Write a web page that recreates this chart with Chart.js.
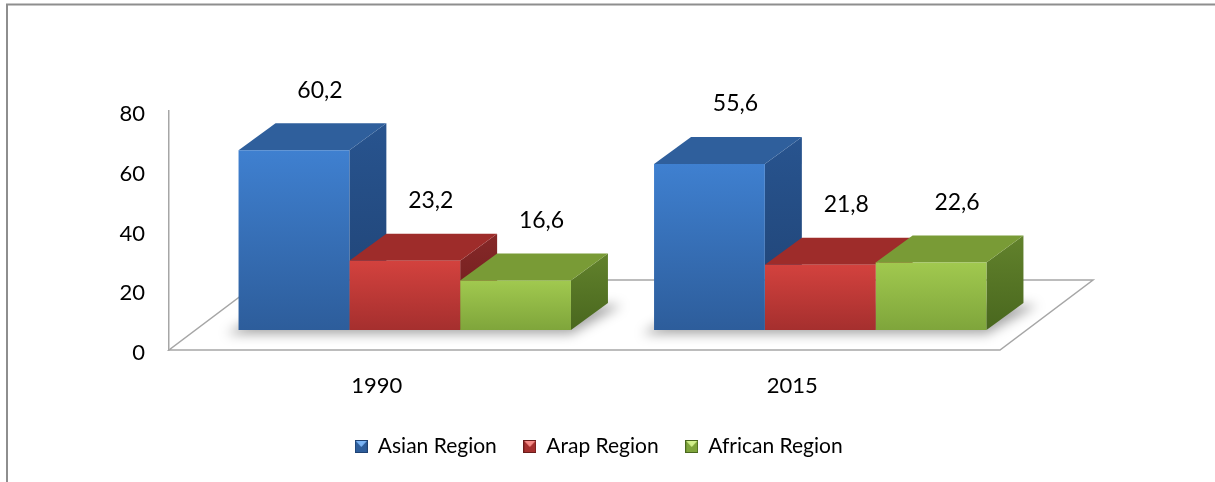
<!DOCTYPE html>
<html>
<head>
<meta charset="utf-8">
<script src="https://cdn.jsdelivr.net/npm/chart.js@4.4.1/dist/chart.umd.min.js"></script>
<style>
    html, body { margin: 0; padding: 0; background: #fff; }
</style>
</head>
<body>
<canvas id="grafico" width="1215" height="482"></canvas>
<script>
const anos = ["1990", "2015"];
const regioes = ["Asian Region", "Arap Region", "African Region"];
const asian = [60.2, 55.6];
const arap = [23.2, 21.8];
const african = [16.6, 22.6];
const yTicks = [0, 20, 40, 60, 80];

// cores de cada regiao: frente (topo -> base), tampa, lateral, brilho da legenda
const cores = [
    { front: ['#3f80d0', '#2d5d9b'], top: '#2f5f9c', side: ['#28548f', '#1f4273'], light: '#7ab4f5' },
    { front: ['#d3423e', '#a52f2e'], top: '#9e2c2a', side: ['#862828', '#6a1c1b'], light: '#f58a86' },
    { front: ['#a1c94f', '#7fa53b'], top: '#799b36', side: ['#62822c', '#49671e'], light: '#d2f08c' }
];

const BAR_DX = 28, BAR_DY = 20;     // frente das barras recuada no piso
const DEPTH_X = 37, DEPTH_Y = 27;   // profundidade das barras
const FLOOR_X = 93, FLOOR_Y = 70;   // profundidade do piso
const FONTE = "Lato, 'Open Sans', sans-serif";

function formata(v) {
    return v.toFixed(1).replace('.', ',');
}

function frenteGradiente(context) {
    const c = cores[context.datasetIndex];
    const chart = context.chart;
    const y = chart.scales.y;
    if (!chart.chartArea || !y || !context.parsed) return c.front[1];
    const topo = y.getPixelForValue(context.parsed.y);
    const base = y.getPixelForValue(0);
    const g = chart.ctx.createLinearGradient(0, topo, 0, base);
    g.addColorStop(0, c.front[0]);
    g.addColorStop(1, c.front[1]);
    return g;
}

function iconeLegenda(c) {
    const cv = document.createElement('canvas');
    cv.width = 13; cv.height = 13;
    const g = cv.getContext('2d');
    g.fillStyle = c.front[1];
    g.fillRect(0, 0, 13, 13);
    g.fillStyle = c.light;
    g.beginPath(); g.moveTo(1, 1); g.lineTo(12, 1); g.lineTo(6.5, 7); g.closePath(); g.fill();
    g.strokeStyle = c.side[1];
    g.lineWidth = 1;
    g.strokeRect(0.5, 0.5, 12, 12);
    return cv;
}
const icones = cores.map(iconeLegenda);

function poligono(ctx, pts, fill) {
    ctx.beginPath();
    ctx.moveTo(pts[0][0], pts[0][1]);
    for (let i = 1; i < pts.length; i++) ctx.lineTo(pts[i][0], pts[i][1]);
    ctx.closePath();
    ctx.fillStyle = fill;
    ctx.fill();
}

const efeito3d = {
    id: 'efeito3d',
    beforeDraw(chart) {
        const ctx = chart.ctx;
        ctx.save();
        ctx.strokeStyle = '#8e8e8e';
        ctx.lineWidth = 2;
        ctx.beginPath();
        ctx.moveTo(7, chart.height);
        ctx.lineTo(7, 4.5);
        ctx.lineTo(chart.width, 4.5);
        ctx.stroke();
        ctx.restore();
    },
    beforeDatasetsDraw(chart) {
        const ctx = chart.ctx;
        const a = chart.chartArea;

        // piso
        ctx.save();
        ctx.beginPath();
        ctx.moveTo(a.left, a.bottom);
        ctx.lineTo(a.right, a.bottom);
        ctx.lineTo(a.right + FLOOR_X, a.bottom - FLOOR_Y);
        ctx.lineTo(a.left + FLOOR_X, a.bottom - FLOOR_Y);
        ctx.closePath();
        ctx.fillStyle = '#fff';
        ctx.fill();
        ctx.strokeStyle = '#a6a6a6';
        ctx.lineWidth = 1.5;
        ctx.stroke();
        ctx.restore();

        // as barras sao desenhadas deslocadas para dentro do piso (restore no afterDatasetsDraw)
        ctx.save();
        ctx.translate(BAR_DX, -BAR_DY);

        const metas = chart.data.datasets.map((d, i) => chart.getDatasetMeta(i));
        for (let j = 0; j < anos.length; j++) {
            const primeiro = metas[0].data[j];
            const ultimo = metas[metas.length - 1].data[j];
            const x0 = primeiro.x - primeiro.width / 2;
            const x1 = ultimo.x + ultimo.width / 2;
            const b = primeiro.base;

            // sombra
            ctx.save();
            ctx.filter = 'blur(6px)';
            poligono(ctx, [[x0 - 12, b + 4], [x1, b + 4], [x1 + DEPTH_X + 14, b - DEPTH_Y + 2], [x0 + DEPTH_X, b - DEPTH_Y + 2]], 'rgba(0,0,0,0.35)');
            ctx.restore();

            for (let i = 0; i < metas.length; i++) {
                const el = metas[i].data[j];
                const c = cores[i];
                const esq = el.x - el.width / 2;
                const dir = el.x + el.width / 2;
                const topo = el.y;
                const base = el.base;

                const gs = ctx.createLinearGradient(0, topo - DEPTH_Y, 0, base);
                gs.addColorStop(0, c.side[0]);
                gs.addColorStop(1, c.side[1]);
                poligono(ctx, [[dir, topo], [dir + DEPTH_X, topo - DEPTH_Y], [dir + DEPTH_X, base - DEPTH_Y], [dir, base]], gs);
                poligono(ctx, [[esq, topo], [dir, topo], [dir + DEPTH_X, topo - DEPTH_Y], [esq + DEPTH_X, topo - DEPTH_Y]], c.top);
            }
        }
    },
    afterDatasetsDraw(chart) {
        const ctx = chart.ctx;
        ctx.restore();

        // rotulos de valor
        ctx.save();
        ctx.font = "23px " + FONTE;
        ctx.fillStyle = '#000';
        ctx.textAlign = 'center';
        ctx.textBaseline = 'middle';
        chart.data.datasets.forEach((ds, i) => {
            chart.getDatasetMeta(i).data.forEach((el, j) => {
                ctx.fillText(formata(ds.data[j]), el.x + BAR_DX + 26, el.y - BAR_DY - 60);
            });
        });
        ctx.restore();
    }
};

const config = {
    type: 'bar',
    data: {
        labels: anos,
        datasets: [
            { label: regioes[0], data: asian, backgroundColor: frenteGradiente },
            { label: regioes[1], data: arap, backgroundColor: frenteGradiente },
            { label: regioes[2], data: african, backgroundColor: frenteGradiente }
        ]
    },
    options: {
        responsive: false,
        animation: false,
        layout: {
            padding: { left: 109, right: 126, top: 111, bottom: 15 }
        },
        datasets: {
            bar: {
                borderWidth: 0,
                categoryPercentage: 0.8,
                barPercentage: 1.0
            }
        },
        plugins: {
            colors: { enabled: false },
            tooltip: { enabled: false },
            legend: {
                position: 'bottom',
                labels: {
                    color: '#000',
                    font: { family: FONTE, size: 21 },
                    boxWidth: 12,
                    boxHeight: 12,
                    padding: 27,
                    usePointStyle: true,
                    generateLabels(chart) {
                        const itens = Chart.defaults.plugins.legend.labels.generateLabels(chart);
                        itens.forEach(it => { it.pointStyle = icones[it.datasetIndex]; });
                        return itens;
                    }
                }
            }
        },
        scales: {
            x: {
                grid: { display: false, drawTicks: false },
                border: { display: false },
                ticks: {
                    color: '#000',
                    font: { family: FONTE, size: 22 },
                    padding: 23
                },
                afterFit(s) { s.height = 59; }
            },
            y: {
                min: 0,
                max: 80,
                grid: { display: false, drawTicks: false },
                border: { display: true, color: '#a6a6a6', width: 1.5 },
                ticks: {
                    color: '#000',
                    font: { family: FONTE, size: 22 },
                    padding: 24,
                    labelOffset: 3
                },
                afterBuildTicks(s) { s.ticks = yTicks.map(v => ({ value: v })); },
                afterFit(s) { s.width = 60; }
            },
            y2: {
                position: 'right',
                grid: { display: false, drawTicks: false },
                border: { display: false },
                ticks: { display: false },
                afterFit(s) { s.width = 89; }
            }
        }
    },
    plugins: [efeito3d]
};

new Chart(document.getElementById("grafico"), config);
</script>
</body>
</html>
